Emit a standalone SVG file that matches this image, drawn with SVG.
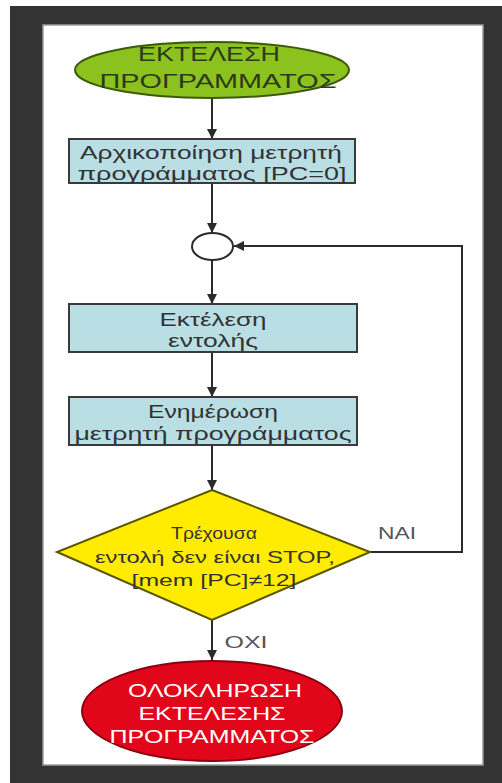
<svg xmlns="http://www.w3.org/2000/svg" width="502" height="783" viewBox="0 0 502 783">
  <style>
    .t { font-family: "Liberation Sans", Arial, sans-serif; text-anchor: middle; }
    .dark { fill: #333; }
    .box { fill: #b9dfe5; stroke: #3a3a3a; stroke-width: 2; }
    .conn { fill: none; stroke: #2b2b2b; stroke-width: 2; }
    .lbl { fill: #555; font-size: 17px; }
  </style>
  <defs>
    <marker id="arrow" viewBox="0 0 10 10" refX="10" refY="5" markerWidth="11" markerHeight="10" orient="auto" markerUnits="userSpaceOnUse">
      <path d="M0,0 L10,5 L0,10 z" fill="#2b2b2b"/>
    </marker>
  </defs>

  <!-- frame -->
  <rect x="0" y="0" width="502" height="783" fill="#ffffff"/>
  <rect x="10" y="6" width="492" height="777" fill="#333333"/>
  <rect x="43" y="25" width="440" height="740" fill="#ffffff" stroke="#9a9a9a" stroke-width="1.5"/>

  <!-- connectors -->
  <g id="connectors" class="conn">
    <path d="M212,98 L212,139" marker-end="url(#arrow)"/>
    <path d="M212,183 L212,233" marker-end="url(#arrow)"/>
    <path d="M212,260 L212,304" marker-end="url(#arrow)"/>
    <path d="M212,352 L212,397" marker-end="url(#arrow)"/>
    <path d="M212,445 L212,490" marker-end="url(#arrow)"/>
    <path d="M212,620 L212,660" marker-end="url(#arrow)"/>
    <path d="M370,552 L462,552 L462,246 L234,246" marker-end="url(#arrow)"/>
  </g>

  <!-- start -->
  <g id="start">
    <ellipse cx="212" cy="70" rx="137" ry="28" fill="#8cc21e" stroke="#3d5a0c" stroke-width="2"/>
    <text class="t" x="209" y="61" font-size="21" fill="#2f3a1c" textLength="142" lengthAdjust="spacingAndGlyphs">ΕΚΤΕΛΕΣΗ</text>
    <text class="t" x="218" y="88" font-size="21" fill="#2f3a1c" textLength="237" lengthAdjust="spacingAndGlyphs">ΠΡΟΓΡΑΜΜΑΤΟΣ</text>
  </g>

  <!-- init PC -->
  <g id="init">
    <rect class="box" x="69" y="139" width="286" height="44"/>
    <text class="t dark" x="211" y="159" font-size="18" textLength="262" lengthAdjust="spacingAndGlyphs">Αρχικοποίηση μετρητή</text>
    <text class="t dark" x="212" y="180" font-size="18" textLength="269" lengthAdjust="spacingAndGlyphs">προγράμματος [PC=0]</text>
  </g>

  <!-- junction -->
  <g id="junction">
    <ellipse cx="212.5" cy="246.5" rx="20.5" ry="13.5" fill="#ffffff" stroke="#2b2b2b" stroke-width="2"/>
  </g>

  <!-- execute instruction -->
  <g id="execute">
    <rect class="box" x="69" y="304" width="288" height="48"/>
    <text class="t dark" x="213" y="326" font-size="18" textLength="107" lengthAdjust="spacingAndGlyphs">Εκτέλεση</text>
    <text class="t dark" x="213" y="347" font-size="18" textLength="90" lengthAdjust="spacingAndGlyphs">εντολής</text>
  </g>

  <!-- update PC -->
  <g id="update">
    <rect class="box" x="69" y="397" width="288" height="48"/>
    <text class="t dark" x="213" y="418" font-size="18" textLength="130" lengthAdjust="spacingAndGlyphs">Ενημέρωση</text>
    <text class="t dark" x="213" y="440" font-size="18" textLength="277" lengthAdjust="spacingAndGlyphs">μετρητή προγράμματος</text>
  </g>

  <!-- decision -->
  <g id="decision">
    <polygon points="212,490 370,552 212,620 57,552" fill="#ffec00" stroke="#5a5500" stroke-width="2"/>
    <text class="t dark" x="214" y="539" font-size="17" textLength="86" lengthAdjust="spacingAndGlyphs">Τρέχουσα</text>
    <text class="t dark" x="215" y="563" font-size="17" textLength="240" lengthAdjust="spacingAndGlyphs">εντολή δεν είναι STOP,</text>
    <text class="t dark" x="214" y="586" font-size="17" textLength="165" lengthAdjust="spacingAndGlyphs">[mem [PC]≠12]</text>
  </g>

  <!-- branch labels -->
  <text class="t lbl" x="397" y="539" textLength="38" lengthAdjust="spacingAndGlyphs">ΝΑΙ</text>
  <text class="t lbl" x="246" y="648" textLength="43" lengthAdjust="spacingAndGlyphs">ΟΧΙ</text>

  <!-- end -->
  <g id="end">
    <ellipse cx="212" cy="711" rx="130" ry="50" fill="#e2061b" stroke="#8c0010" stroke-width="2"/>
    <text class="t" x="215" y="697" font-size="19" fill="#ffffff" textLength="174" lengthAdjust="spacingAndGlyphs">ΟΛΟΚΛΗΡΩΣΗ</text>
    <text class="t" x="212" y="720" font-size="19" fill="#ffffff" textLength="147" lengthAdjust="spacingAndGlyphs">ΕΚΤΕΛΕΣΗΣ</text>
    <text class="t" x="212" y="743" font-size="19" fill="#ffffff" textLength="205" lengthAdjust="spacingAndGlyphs">ΠΡΟΓΡΑΜΜΑΤΟΣ</text>
  </g>
</svg>
